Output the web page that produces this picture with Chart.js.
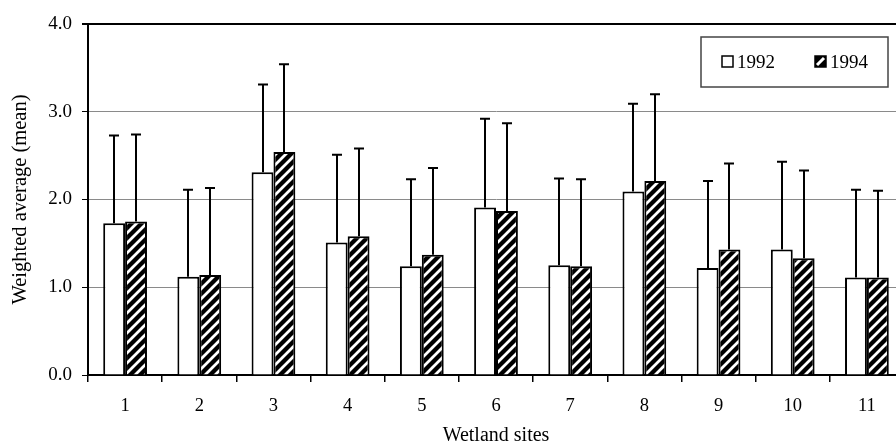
<!DOCTYPE html>
<html>
<head>
<meta charset="utf-8">
<script src="https://cdn.jsdelivr.net/npm/chart.js@4"></script>
<style>
  html, body { margin: 0; padding: 0; background: #fff; overflow: hidden; }
  #wrap { position: relative; width: 906px; height: 445px; }
</style>
</head>
<body>
<div id="wrap"><canvas id="c"></canvas></div>
<script>
// ---- data ----
const sites = ['1', '2', '3', '4', '5', '6', '7', '8', '9', '10', '11'];
const seriesLabels = ['1992', '1994'];
const mean1992 = [1.73, 1.12, 2.31, 1.51, 1.24, 1.91, 1.25, 2.09, 1.22, 1.43, 1.11];
const mean1994 = [1.75, 1.14, 2.54, 1.58, 1.37, 1.87, 1.24, 2.21, 1.43, 1.33, 1.11];
const sd1992   = [1.00, 0.99, 1.00, 1.00, 0.99, 1.01, 0.99, 1.00, 0.99, 1.00, 1.00];
const sd1994   = [0.99, 0.99, 1.00, 1.00, 0.99, 1.00, 0.99, 0.99, 0.98, 1.00, 0.99];
const yTicks   = [0, 1, 2, 3, 4];

const SERIF = '"Liberation Serif", "Times New Roman", serif';

function makeHatch() {
  const s = 10;
  const c = document.createElement('canvas');
  c.width = s; c.height = s;
  const g = c.getContext('2d');
  g.fillStyle = '#000';
  g.fillRect(0, 0, s, s);
  g.strokeStyle = '#fff';
  g.lineWidth = 2.8;
  g.lineCap = 'square';
  g.beginPath();
  g.moveTo(-2, 2); g.lineTo(2, -2);
  g.moveTo(0, s); g.lineTo(s, 0);
  g.moveTo(s - 2, s + 2); g.lineTo(s + 2, s - 2);
  g.stroke();
  return g.createPattern(c, 'repeat');
}
const hatch = makeHatch();

const errorBars = {
  id: 'errorBars',
  afterDatasetsDraw(chart) {
    const ctx = chart.ctx;
    const y = chart.scales.y;
    const sds = [sd1992, sd1994];
    ctx.save();
    ctx.strokeStyle = '#000';
    ctx.lineWidth = 2;
    chart.data.datasets.forEach((ds, di) => {
      const meta = chart.getDatasetMeta(di);
      meta.data.forEach((bar, i) => {
        const top = y.getPixelForValue(ds.data[i] + sds[di][i]);
        const x = Math.round(bar.x);
        ctx.beginPath();
        ctx.moveTo(x, bar.y);
        ctx.lineTo(x, top);
        ctx.moveTo(x - 5, top);
        ctx.lineTo(x + 5, top);
        ctx.stroke();
      });
    });
    ctx.restore();
  }
};

const boxLegend = {
  id: 'boxLegend',
  afterDraw(chart) {
    const ctx = chart.ctx;
    const a = chart.chartArea;
    const bx = a.right - 203, by = a.top + 13, bw = 187, bh = 50;
    ctx.save();
    ctx.fillStyle = '#fff';
    ctx.fillRect(bx, by, bw, bh);
    ctx.strokeStyle = '#444';
    ctx.lineWidth = 1.5;
    ctx.strokeRect(bx, by, bw, bh);
    ctx.font = '19px ' + SERIF;
    ctx.fillStyle = '#000';
    ctx.textBaseline = 'alphabetic';
    const base = by + 31;
    // 1992
    let sx = bx + 21, sy = by + 19;
    ctx.lineWidth = 1.5;
    ctx.strokeStyle = '#000';
    ctx.fillStyle = '#fff';
    ctx.fillRect(sx, sy, 11, 11);
    ctx.strokeRect(sx, sy, 11, 11);
    ctx.fillStyle = '#000';
    ctx.fillText(chart.data.datasets[0].label, sx + 15, base);
    // 1994
    sx = bx + 114;
    ctx.fillStyle = '#000';
    ctx.fillRect(sx, sy, 11, 11);
    ctx.strokeRect(sx, sy, 11, 11);
    ctx.strokeStyle = '#fff';
    ctx.lineWidth = 3;
    ctx.beginPath();
    ctx.moveTo(sx + 2, sy + 9);
    ctx.lineTo(sx + 9, sy + 2);
    ctx.stroke();
    ctx.fillStyle = '#000';
    ctx.fillText(chart.data.datasets[1].label, sx + 15, base);
    ctx.restore();
  }
};

new Chart(document.getElementById('c'), {
  type: 'bar',
  data: {
    labels: sites,
    datasets: [
      { label: seriesLabels[0], data: mean1992, backgroundColor: '#fff',
        borderColor: '#000', borderWidth: 2 },
      { label: seriesLabels[1], data: mean1994, backgroundColor: hatch,
        borderColor: '#000', borderWidth: 2 }
    ]
  },
  options: {
    responsive: true,
    maintainAspectRatio: false,
    animation: false,
    events: [],
    layout: { padding: { left: 0, top: 24, right: 2, bottom: 0 } },
    datasets: { bar: { categoryPercentage: 0.59, barPercentage: 1.0 } },
    plugins: { legend: { display: false }, tooltip: { enabled: false } },
    scales: {
      x: {
        offset: true,
        grid: { offset: true, drawOnChartArea: false, color: '#000', lineWidth: 1.5, tickLength: 7 },
        border: { color: '#000', width: 2 },
        ticks: { color: '#000', padding: 13, font: { family: SERIF, size: 18.5 } },
        title: { display: true, text: 'Wetland sites', color: '#000',
                 font: { family: SERIF, size: 20 }, padding: { top: 0, bottom: -3 } },
        afterFit(s) { s.height = 70; }
      },
      y: {
        min: 0, max: 4,
        afterBuildTicks(s) { s.ticks = yTicks.map(v => ({ value: v })); },
        grid: {
          color: c => c.tick && c.tick.value === 4 ? '#000' : '#8a8a8a',
          lineWidth: c => c.tick && c.tick.value === 4 ? 2 : 1,
          tickColor: '#000',
          tickLength: 6
        },
        border: { color: '#000', width: 2 },
        ticks: { color: '#000', padding: 10, font: { family: SERIF, size: 19 },
                 callback: v => Number(v).toFixed(1) },
        title: { display: true, text: 'Weighted average (mean)', color: '#000',
                 font: { family: SERIF, size: 20.5 }, padding: { top: 8, bottom: 0 } },
        afterFit(s) { s.width = 88; }
      }
    }
  },
  plugins: [errorBars, boxLegend]
});
</script>
</body>
</html>
